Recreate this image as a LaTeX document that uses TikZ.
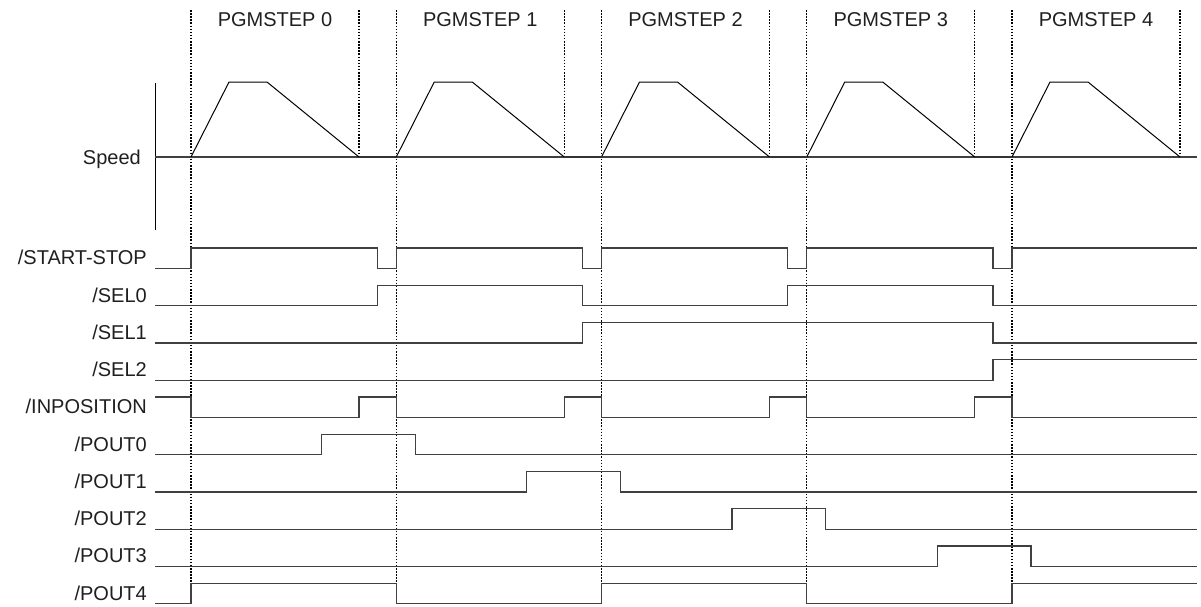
\documentclass[tikz,border=0pt]{standalone}
\usepackage{fontspec}
\setmainfont{Liberation Sans}
\begin{document}
\begin{tikzpicture}[x=1pt,y=-1pt,
  lbl/.style={anchor=base east,font=\fontsize{20}{22}\selectfont,text=black!88,inner sep=0pt},
  hdr/.style={anchor=base,font=\fontsize{20}{22}\selectfont,text=black!88,inner sep=0pt},
  sig/.style={line width=1.3pt,draw=black!75},
  spd/.style={line width=1pt,draw=black},
  idle/.style={line width=2pt,draw=black!80},
  dots/.style={line width=1.1pt,draw=black,dash pattern=on 1.5pt off 1.6pt}]
\useasboundingbox (0,0) rectangle (1201,606);
% dotted guide lines
\foreach \s [count=\i] in {191,396.25,601.5,806.75,1012}{
  \pgfmathsetmacro\e{\s+168}
  \coordinate (st\i) at (\s,10);
  \coordinate (en\i) at (\e,10);
  \draw[dots] (st\i) -- (\s,604);
  \draw[dots] (en\i) -- (\e,157);
  \pgfmathtruncatemacro\k{\i-1}
  \pgfmathsetmacro\c{\s+84}
  \node[hdr] (h\i) at (\c,26) {PGMSTEP \k};
}
% speed axis
\draw[spd] (155,83) -- (155,230);
\draw[line width=1.2pt,draw=black!75] (155,157) -- (1197,157);
\node[lbl] (speed) at (141,164) {Speed};
\foreach \s in {191,396.25,601.5,806.75,1012}{
  \draw[spd,line join=miter] (\s,157) -- ++(38,-75) -- ++(38,0) -- (\s+168,157);
}
\foreach \a/\b in {359/396.25,564.25/601.5,769.5/806.75,974.75/1012}{
  \draw[idle] (\a,157) -- (\b,157);
}
% signal labels
\node[lbl] (l0) at (147,264.75) {/START-STOP};
\node[lbl] (l1) at (147,302) {/SEL0};
\node[lbl] (l2) at (147,339.25) {/SEL1};
\node[lbl] (l3) at (147,376.5) {/SEL2};
\node[lbl] (l4) at (147,413.75) {/INPOSITION};
\node[lbl] (l5) at (147,451) {/POUT0};
\node[lbl] (l6) at (147,488.25) {/POUT1};
\node[lbl] (l7) at (147,525.5) {/POUT2};
\node[lbl] (l8) at (147,562.75) {/POUT3};
\node[lbl] (l9) at (147,600) {/POUT4};
% waveforms
\draw[sig] (155,268.5) -| (191,248) -| (377.25,268.5) -| (396.25,248) -| (582.5,268.5) -| (601.5,248) -| (787.75,268.5) -| (806.75,248) -| (993,268.5) -| (1012,248) -- (1197,248);
\draw[sig] (155,305.75) -| (377.25,285.25) -| (582.5,305.75) -| (787.75,285.25) -| (993,305.75) -- (1197,305.75);
\draw[sig] (155,343) -| (582.5,322.5) -| (993,343) -- (1197,343);
\draw[sig] (155,380.25) -| (993,359.75) -- (1197,359.75);
\draw[sig] (155,397) -| (191,417.5) -| (359,397) -| (396.25,417.5) -| (564.25,397) -| (601.5,417.5) -| (769.5,397) -| (806.75,417.5) -| (974.75,397) -| (1012,417.5) -- (1197,417.5);
\draw[sig] (155,454.75) -| (321.5,434.25) -| (415.25,454.75) -- (1197,454.75);
\draw[sig] (155,492) -| (526.75,471.5) -| (620.5,492) -- (1197,492);
\draw[sig] (155,529.25) -| (732,508.75) -| (825.75,529.25) -- (1197,529.25);
\draw[sig] (155,566.5) -| (937.25,546) -| (1031,566.5) -- (1197,566.5);
\draw[sig] (155,603.75) -| (191,583.25) -| (396.25,603.75) -| (601.5,583.25) -| (806.75,603.75) -| (1012,583.25) -- (1197,583.25);
\end{tikzpicture}
\end{document}
